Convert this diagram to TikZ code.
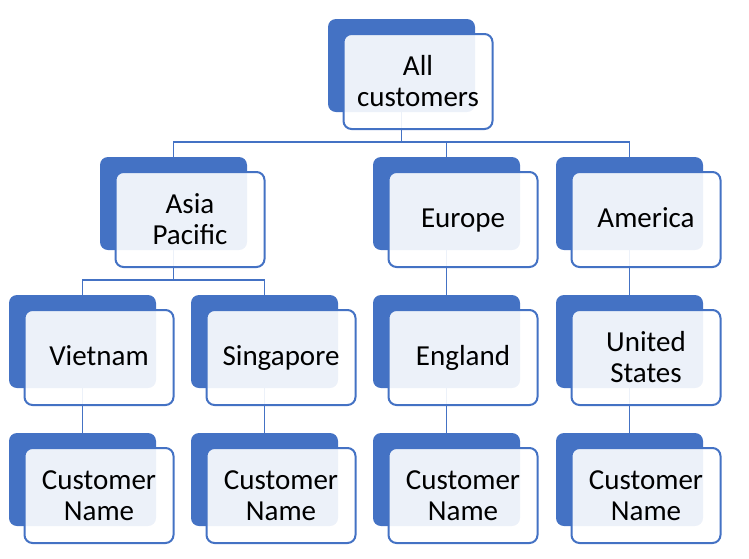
\documentclass[tikz,border=0pt]{standalone}
\usepackage{fontspec}
\setmainfont{Carlito}
\definecolor{offblue}{HTML}{4472C4}
\newcommand\backpiece[3]{\node[backbox] (#1-b) at (#2,#3) {};}
\newcommand\frontpiece[5][]{\node[frontbox,#1] (#2) at (#3+15.5,#4+15) {#5};}
\begin{document}
\begin{tikzpicture}[x=1pt,y=-1pt,
  backbox/.style={fill=offblue, rounded corners=8pt, minimum width=147pt, minimum height=93pt, inner sep=0pt, outer sep=0pt, anchor=north west},
  frontbox/.style={draw=offblue, line width=2pt, fill=white, fill opacity=0.9, text opacity=1, rounded corners=8pt, minimum width=149pt, minimum height=95pt, inner sep=0pt, outer sep=0pt, anchor=north west, align=center, font=\fontsize{29}{31}\selectfont},
  oneline/.style={text height=15pt, text depth=0pt},
  link/.style={draw=offblue, line width=1.5pt}]
\useasboundingbox (0,0) rectangle (749,558);
% back boxes
\backpiece{top}{328}{19}
\backpiece{asia}{100}{157}
\backpiece{eur}{373}{157}
\backpiece{amer}{556}{157}
\backpiece{viet}{9}{295}
\backpiece{sing}{191}{295}
\backpiece{eng}{373}{295}
\backpiece{us}{556}{295}
\backpiece{cna}{9}{433}
\backpiece{cnb}{191}{433}
\backpiece{cnc}{373}{433}
\backpiece{cnd}{556}{433}
% connectors
\draw[link] (top-b.south) -- ++(0,30) -| (asia-b.north);
\draw[link] (top-b.south) -- ++(0,30) -| (eur-b.north);
\draw[link] (top-b.south) -- ++(0,30) -| (amer-b.north);
\draw[link] (asia-b.south) -- ++(0,30) -| (viet-b.north);
\draw[link] (asia-b.south) -- ++(0,30) -| (sing-b.north);
\draw[link] (eur-b.south) -- (eng-b.north);
\draw[link] (amer-b.south) -- (us-b.north);
\draw[link] (viet-b.south) -- (cna-b.north);
\draw[link] (sing-b.south) -- (cnb-b.north);
\draw[link] (eng-b.south) -- (cnc-b.north);
\draw[link] (us-b.south) -- (cnd-b.north);
% front boxes
\frontpiece{top}{328}{19}{All\\customers}
\frontpiece{asia}{100}{157}{Asia\\Pacific}
\frontpiece[oneline]{eur}{373}{157}{Europe}
\frontpiece[oneline]{amer}{556}{157}{America}
\frontpiece[oneline]{viet}{9}{295}{Vietnam}
\frontpiece[oneline]{sing}{191}{295}{Singapore}
\frontpiece[oneline]{eng}{373}{295}{England}
\frontpiece{us}{556}{295}{United\\States}
\frontpiece{cna}{9}{433}{Customer\\Name}
\frontpiece{cnb}{191}{433}{Customer\\Name}
\frontpiece{cnc}{373}{433}{Customer\\Name}
\frontpiece{cnd}{556}{433}{Customer\\Name}
\end{tikzpicture}
\end{document}
